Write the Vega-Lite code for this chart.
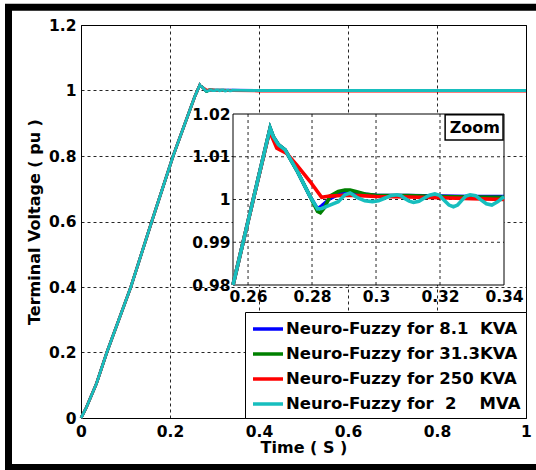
{
  "$schema": "https://vega.github.io/schema/vega-lite/v6.json",
  "width": 445,
  "height": 393,
  "autosize": "none",
  "padding": {"left": 81, "top": 25, "right": 10, "bottom": 52},
  "background": "white",
  "config": {
    "font": "DejaVu Sans",
    "view": {"stroke": "black", "strokeWidth": 1},
    "axis": {
      "labelFont": "DejaVu Sans", "labelFontWeight": "bold", "labelFontSize": 15.5, "labelColor": "black",
      "titleFont": "DejaVu Sans", "titleFontWeight": "bold", "titleFontSize": 16, "titleColor": "black",
      "ticks": false, "domain": false, "labelFlush": false, "labelOverlap": false,
      "gridColor": "black", "gridDash": [3, 3], "gridOpacity": 0.85, "gridWidth": 1
    },
    "legend": {
      "orient": "bottom-right", "offset": 0, "padding": 5,
      "strokeColor": "black", "fillColor": "white",
      "symbolType": "M-0.9,0H2.1", "symbolSize": 400, "symbolStrokeWidth": 3.5,
      "labelFont": "DejaVu Sans", "labelFontWeight": "bold", "labelFontSize": 16.5, "labelColor": "black",
      "labelLimit": 400, "labelOffset": 12, "rowPadding": 4
    }
  },
  "datasets": {
    "voltage": [
      {"s": "8.1KVA", "t": 0, "v": 0}, {"s": "8.1KVA", "t": 0.012, "v": 0.032}, {"s": "8.1KVA", "t": 0.035, "v": 0.106},
      {"s": "8.1KVA", "t": 0.058, "v": 0.2}, {"s": "8.1KVA", "t": 0.085, "v": 0.3}, {"s": "8.1KVA", "t": 0.112, "v": 0.4},
      {"s": "8.1KVA", "t": 0.159, "v": 0.6}, {"s": "8.1KVA", "t": 0.207, "v": 0.8}, {"s": "8.1KVA", "t": 0.2553, "v": 0.98},
      {"s": "8.1KVA", "t": 0.26, "v": 0.9949}, {"s": "8.1KVA", "t": 0.2669, "v": 1.0167}, {"s": "8.1KVA", "t": 0.2679, "v": 1.0147},
      {"s": "8.1KVA", "t": 0.2695, "v": 1.0128}, {"s": "8.1KVA", "t": 0.2716, "v": 1.0116}, {"s": "8.1KVA", "t": 0.2752, "v": 1.0069},
      {"s": "8.1KVA", "t": 0.2794, "v": 1.0007}, {"s": "8.1KVA", "t": 0.2817, "v": 0.9978}, {"s": "8.1KVA", "t": 0.283, "v": 0.9985},
      {"s": "8.1KVA", "t": 0.2856, "v": 1.0002}, {"s": "8.1KVA", "t": 0.2882, "v": 1.0012}, {"s": "8.1KVA", "t": 0.2903, "v": 1.0016},
      {"s": "8.1KVA", "t": 0.294, "v": 1.0014}, {"s": "8.1KVA", "t": 0.3, "v": 1.001}, {"s": "8.1KVA", "t": 0.31, "v": 1.0009},
      {"s": "8.1KVA", "t": 0.32, "v": 1.0008}, {"s": "8.1KVA", "t": 0.33, "v": 1.0007}, {"s": "8.1KVA", "t": 0.34, "v": 1.0007},
      {"s": "8.1KVA", "t": 0.4, "v": 1}, {"s": "8.1KVA", "t": 1, "v": 1},

      {"s": "31.3KVA", "t": 0, "v": 0}, {"s": "31.3KVA", "t": 0.012, "v": 0.032}, {"s": "31.3KVA", "t": 0.035, "v": 0.106},
      {"s": "31.3KVA", "t": 0.058, "v": 0.2}, {"s": "31.3KVA", "t": 0.085, "v": 0.3}, {"s": "31.3KVA", "t": 0.112, "v": 0.4},
      {"s": "31.3KVA", "t": 0.159, "v": 0.6}, {"s": "31.3KVA", "t": 0.207, "v": 0.8}, {"s": "31.3KVA", "t": 0.2553, "v": 0.98},
      {"s": "31.3KVA", "t": 0.26, "v": 0.9949}, {"s": "31.3KVA", "t": 0.2669, "v": 1.0167}, {"s": "31.3KVA", "t": 0.2679, "v": 1.0147},
      {"s": "31.3KVA", "t": 0.2695, "v": 1.0128}, {"s": "31.3KVA", "t": 0.2716, "v": 1.0116}, {"s": "31.3KVA", "t": 0.2752, "v": 1.0069},
      {"s": "31.3KVA", "t": 0.2794, "v": 1.0007}, {"s": "31.3KVA", "t": 0.2817, "v": 0.9972}, {"s": "31.3KVA", "t": 0.2826, "v": 0.9969},
      {"s": "31.3KVA", "t": 0.284, "v": 0.9982}, {"s": "31.3KVA", "t": 0.2856, "v": 1.0008}, {"s": "31.3KVA", "t": 0.2882, "v": 1.0019},
      {"s": "31.3KVA", "t": 0.2903, "v": 1.0022}, {"s": "31.3KVA", "t": 0.2919, "v": 1.0022}, {"s": "31.3KVA", "t": 0.294, "v": 1.0018},
      {"s": "31.3KVA", "t": 0.2971, "v": 1.0012}, {"s": "31.3KVA", "t": 0.3, "v": 1.001}, {"s": "31.3KVA", "t": 0.31, "v": 1.0009},
      {"s": "31.3KVA", "t": 0.32, "v": 1.0007}, {"s": "31.3KVA", "t": 0.33, "v": 1.0006}, {"s": "31.3KVA", "t": 0.34, "v": 1.0005},
      {"s": "31.3KVA", "t": 0.4, "v": 1}, {"s": "31.3KVA", "t": 1, "v": 1},

      {"s": "250KVA", "t": 0, "v": 0}, {"s": "250KVA", "t": 0.012, "v": 0.032}, {"s": "250KVA", "t": 0.035, "v": 0.106},
      {"s": "250KVA", "t": 0.058, "v": 0.2}, {"s": "250KVA", "t": 0.085, "v": 0.3}, {"s": "250KVA", "t": 0.112, "v": 0.4},
      {"s": "250KVA", "t": 0.159, "v": 0.6}, {"s": "250KVA", "t": 0.207, "v": 0.8}, {"s": "250KVA", "t": 0.2553, "v": 0.98},
      {"s": "250KVA", "t": 0.26, "v": 0.9949}, {"s": "250KVA", "t": 0.2667, "v": 1.0159}, {"s": "250KVA", "t": 0.2679, "v": 1.0139},
      {"s": "250KVA", "t": 0.269, "v": 1.012}, {"s": "250KVA", "t": 0.2721, "v": 1.0108}, {"s": "250KVA", "t": 0.2752, "v": 1.0081},
      {"s": "250KVA", "t": 0.2794, "v": 1.0042}, {"s": "250KVA", "t": 0.283, "v": 1.0005}, {"s": "250KVA", "t": 0.2856, "v": 1.0008},
      {"s": "250KVA", "t": 0.29, "v": 1.001}, {"s": "250KVA", "t": 0.295, "v": 1.0009}, {"s": "250KVA", "t": 0.3, "v": 1.0007},
      {"s": "250KVA", "t": 0.31, "v": 1.0006}, {"s": "250KVA", "t": 0.32, "v": 1.0004}, {"s": "250KVA", "t": 0.33, "v": 1.0002},
      {"s": "250KVA", "t": 0.34, "v": 1.0}, {"s": "250KVA", "t": 0.4, "v": 0.9985}, {"s": "250KVA", "t": 0.6, "v": 0.998},
      {"s": "250KVA", "t": 1, "v": 0.998},

      {"s": "2MVA", "t": 0, "v": 0}, {"s": "2MVA", "t": 0.012, "v": 0.032}, {"s": "2MVA", "t": 0.035, "v": 0.106},
      {"s": "2MVA", "t": 0.058, "v": 0.2}, {"s": "2MVA", "t": 0.085, "v": 0.3}, {"s": "2MVA", "t": 0.112, "v": 0.4},
      {"s": "2MVA", "t": 0.159, "v": 0.6}, {"s": "2MVA", "t": 0.207, "v": 0.8}, {"s": "2MVA", "t": 0.2553, "v": 0.98},
      {"s": "2MVA", "t": 0.26, "v": 0.9949}, {"s": "2MVA", "t": 0.2669, "v": 1.0167}, {"s": "2MVA", "t": 0.2679, "v": 1.0147},
      {"s": "2MVA", "t": 0.2695, "v": 1.0128}, {"s": "2MVA", "t": 0.2716, "v": 1.0116}, {"s": "2MVA", "t": 0.2752, "v": 1.0069},
      {"s": "2MVA", "t": 0.2794, "v": 1.0007}, {"s": "2MVA", "t": 0.2817, "v": 0.9978}, {"s": "2MVA", "t": 0.283, "v": 0.9979},
      {"s": "2MVA", "t": 0.2856, "v": 0.9987}, {"s": "2MVA", "t": 0.2882, "v": 0.9995}, {"s": "2MVA", "t": 0.2903, "v": 1.0011},
      {"s": "2MVA", "t": 0.2919, "v": 1.0015}, {"s": "2MVA", "t": 0.294, "v": 1.0005}, {"s": "2MVA", "t": 0.2965, "v": 0.9997},
      {"s": "2MVA", "t": 0.2989, "v": 0.9995}, {"s": "2MVA", "t": 0.3008, "v": 0.9997}, {"s": "2MVA", "t": 0.3027, "v": 1.0003},
      {"s": "2MVA", "t": 0.3046, "v": 1.0009}, {"s": "2MVA", "t": 0.3065, "v": 1.0011}, {"s": "2MVA", "t": 0.3078, "v": 1.0009},
      {"s": "2MVA", "t": 0.3091, "v": 1.0002}, {"s": "2MVA", "t": 0.3104, "v": 0.9996}, {"s": "2MVA", "t": 0.3117, "v": 0.9993},
      {"s": "2MVA", "t": 0.3134, "v": 0.9996}, {"s": "2MVA", "t": 0.315, "v": 1.0003}, {"s": "2MVA", "t": 0.3167, "v": 1.001},
      {"s": "2MVA", "t": 0.3184, "v": 1.0013}, {"s": "2MVA", "t": 0.3198, "v": 1.001}, {"s": "2MVA", "t": 0.3213, "v": 0.9998},
      {"s": "2MVA", "t": 0.3228, "v": 0.9987}, {"s": "2MVA", "t": 0.3242, "v": 0.9983}, {"s": "2MVA", "t": 0.3255, "v": 0.9987},
      {"s": "2MVA", "t": 0.3268, "v": 0.9998}, {"s": "2MVA", "t": 0.3281, "v": 1.0008}, {"s": "2MVA", "t": 0.3294, "v": 1.0011},
      {"s": "2MVA", "t": 0.3311, "v": 1.0009}, {"s": "2MVA", "t": 0.3328, "v": 0.9999}, {"s": "2MVA", "t": 0.3345, "v": 0.999},
      {"s": "2MVA", "t": 0.3362, "v": 0.9987}, {"s": "2MVA", "t": 0.3381, "v": 0.9995}, {"s": "2MVA", "t": 0.34, "v": 1.0007},
      {"s": "2MVA", "t": 0.36, "v": 1.0003}, {"s": "2MVA", "t": 0.4, "v": 1}, {"s": "2MVA", "t": 0.6, "v": 1},
      {"s": "2MVA", "t": 0.8, "v": 1}, {"s": "2MVA", "t": 1, "v": 1}
    ],
    "zoomTimeGrid": [{"t": 0.26}, {"t": 0.28}, {"t": 0.3}, {"t": 0.32}],
    "zoomVoltageGrid": [{"v": 0.99}, {"v": 1.0}, {"v": 1.01}]
  },
  "layer": [
    {
      "layer": [
        {
          "data": {"values": [{}]},
          "mark": {"type": "rect", "filled": false, "stroke": "black", "strokeWidth": 7, "clip": false,
                   "xOffset": -72.5, "x2Offset": 25, "yOffset": 49.5, "y2Offset": -17.7},
          "encoding": {
            "x": {"datum": 0, "type": "quantitative"},
            "x2": {"datum": 1},
            "y": {"datum": 0, "type": "quantitative"},
            "y2": {"datum": 1.2}
          }
        },
        {
          "data": {"name": "voltage"},
          "mark": {"type": "line", "strokeWidth": 2.8},
          "encoding": {
            "x": {
              "field": "t", "type": "quantitative",
              "scale": {"domain": [0, 1], "nice": false, "zero": false},
              "axis": {"values": [0, 0.2, 0.4, 0.6, 0.8, 1], "format": "~g", "title": "Time ( S )",
                       "grid": true, "labelPadding": 6, "titlePadding": 0}
            },
            "y": {
              "field": "v", "type": "quantitative",
              "scale": {"domain": [0, 1.2], "nice": false, "zero": false},
              "axis": {"values": [0, 0.2, 0.4, 0.6, 0.8, 1, 1.2], "format": "~g", "title": "Terminal Voltage ( pu )",
                       "grid": true, "labelPadding": 5, "titlePadding": 6}
            },
            "color": {
              "field": "s", "type": "nominal", "title": null,
              "scale": {"domain": ["8.1KVA", "31.3KVA", "250KVA", "2MVA"],
                        "range": ["#0000ff", "#008000", "#ff0000", "#17bebe"]},
              "legend": {"labelExpr": "datum.value == '8.1KVA' ? 'Neuro-Fuzzy for 8.1\u00a0\u00a0KVA' : datum.value == '31.3KVA' ? 'Neuro-Fuzzy for 31.3KVA' : datum.value == '250KVA' ? 'Neuro-Fuzzy for 250 KVA' : 'Neuro-Fuzzy for \u00a02\u00a0\u00a0\u00a0\u00a0MVA'"}
            }
          }
        }
      ]
    },
    {
      "layer": [
        {
          "data": {"values": [{}]},
          "mark": {"type": "rect", "fill": "white", "stroke": "black", "strokeWidth": 1},
          "encoding": {
            "x": {"datum": 0.2553, "type": "quantitative",
                  "scale": {"domain": [0.2553, 0.34], "range": [152, 423], "nice": false, "zero": false},
                  "axis": {"orient": "bottom", "offset": -133, "values": [0.26, 0.28, 0.3, 0.32, 0.34], "format": "~g",
                           "title": null, "grid": false, "labelPadding": 4, "zindex": 1}},
            "x2": {"datum": 0.34},
            "y": {"datum": 0.98, "type": "quantitative",
                  "scale": {"domain": [0.98, 1.02], "range": [260, 89], "nice": false, "zero": false},
                  "axis": {"orient": "left", "offset": -152, "values": [0.98, 0.99, 1, 1.01, 1.02], "format": "~g",
                           "title": null, "grid": false, "labelPadding": 3, "zindex": 1}},
            "y2": {"datum": 1.02}
          }
        },
        {
          "data": {"name": "zoomTimeGrid"},
          "mark": {"type": "rule", "color": "black", "strokeDash": [3, 3], "strokeWidth": 1, "opacity": 0.85},
          "encoding": {
            "x": {"field": "t", "type": "quantitative",
                  "scale": {"domain": [0.2553, 0.34], "range": [152, 423], "nice": false, "zero": false},
                  "axis": {"orient": "bottom", "offset": -133, "values": [0.26, 0.28, 0.3, 0.32, 0.34], "format": "~g",
                           "title": null, "grid": false, "labelPadding": 4, "zindex": 1}},
            "y": {"datum": 0.98, "type": "quantitative",
                  "scale": {"domain": [0.98, 1.02], "range": [260, 89], "nice": false, "zero": false},
                  "axis": {"orient": "left", "offset": -152, "values": [0.98, 0.99, 1, 1.01, 1.02], "format": "~g",
                           "title": null, "grid": false, "labelPadding": 3, "zindex": 1}},
            "y2": {"datum": 1.02}
          }
        },
        {
          "data": {"name": "zoomVoltageGrid"},
          "mark": {"type": "rule", "color": "black", "strokeDash": [3, 3], "strokeWidth": 1, "opacity": 0.85},
          "encoding": {
            "x": {"datum": 0.2553, "type": "quantitative",
                  "scale": {"domain": [0.2553, 0.34], "range": [152, 423], "nice": false, "zero": false},
                  "axis": {"orient": "bottom", "offset": -133, "values": [0.26, 0.28, 0.3, 0.32, 0.34], "format": "~g",
                           "title": null, "grid": false, "labelPadding": 4, "zindex": 1}},
            "x2": {"datum": 0.34},
            "y": {"field": "v", "type": "quantitative",
                  "scale": {"domain": [0.98, 1.02], "range": [260, 89], "nice": false, "zero": false},
                  "axis": {"orient": "left", "offset": -152, "values": [0.98, 0.99, 1, 1.01, 1.02], "format": "~g",
                           "title": null, "grid": false, "labelPadding": 3, "zindex": 1}}
          }
        },
        {
          "data": {"name": "voltage"},
          "transform": [{"filter": "datum.t >= 0.2553 && datum.t <= 0.34"}],
          "mark": {"type": "line", "strokeWidth": 3.6},
          "encoding": {
            "x": {"field": "t", "type": "quantitative",
                  "scale": {"domain": [0.2553, 0.34], "range": [152, 423], "nice": false, "zero": false},
                  "axis": {"orient": "bottom", "offset": -133, "values": [0.26, 0.28, 0.3, 0.32, 0.34], "format": "~g",
                           "title": null, "grid": false, "labelPadding": 4, "zindex": 1}},
            "y": {"field": "v", "type": "quantitative",
                  "scale": {"domain": [0.98, 1.02], "range": [260, 89], "nice": false, "zero": false},
                  "axis": {"orient": "left", "offset": -152, "values": [0.98, 0.99, 1, 1.01, 1.02], "format": "~g",
                           "title": null, "grid": false, "labelPadding": 3, "zindex": 1}},
            "color": {
              "field": "s", "type": "nominal", "title": null,
              "scale": {"domain": ["8.1KVA", "31.3KVA", "250KVA", "2MVA"],
                        "range": ["#0000ff", "#008000", "#ff0000", "#17bebe"]},
              "legend": {"labelExpr": "datum.value == '8.1KVA' ? 'Neuro-Fuzzy for 8.1\u00a0\u00a0KVA' : datum.value == '31.3KVA' ? 'Neuro-Fuzzy for 31.3KVA' : datum.value == '250KVA' ? 'Neuro-Fuzzy for 250 KVA' : 'Neuro-Fuzzy for \u00a02\u00a0\u00a0\u00a0\u00a0MVA'"}
            }
          }
        },
        {
          "data": {"values": [{}]},
          "mark": {"type": "rect", "fill": "white", "stroke": "black", "strokeWidth": 1.5},
          "encoding": {
            "x": {"datum": 0.3216, "type": "quantitative",
                  "scale": {"domain": [0.2553, 0.34], "range": [152, 423], "nice": false, "zero": false},
                  "axis": {"orient": "bottom", "offset": -133, "values": [0.26, 0.28, 0.3, 0.32, 0.34], "format": "~g",
                           "title": null, "grid": false, "labelPadding": 4, "zindex": 1}},
            "x2": {"datum": 0.3397},
            "y": {"datum": 1.0198, "type": "quantitative",
                  "scale": {"domain": [0.98, 1.02], "range": [260, 89], "nice": false, "zero": false},
                  "axis": {"orient": "left", "offset": -152, "values": [0.98, 0.99, 1, 1.01, 1.02], "format": "~g",
                           "title": null, "grid": false, "labelPadding": 3, "zindex": 1}},
            "y2": {"datum": 1.0139}
          }
        },
        {
          "data": {"values": [{"label": "Zoom"}]},
          "mark": {"type": "text", "font": "DejaVu Sans", "fontWeight": "bold", "fontSize": 16, "color": "black",
                   "align": "right", "baseline": "middle", "dx": -4, "dy": 13.5},
          "encoding": {
            "x": {"datum": 0.34, "type": "quantitative",
                  "scale": {"domain": [0.2553, 0.34], "range": [152, 423], "nice": false, "zero": false},
                  "axis": {"orient": "bottom", "offset": -133, "values": [0.26, 0.28, 0.3, 0.32, 0.34], "format": "~g",
                           "title": null, "grid": false, "labelPadding": 4, "zindex": 1}},
            "y": {"datum": 1.02, "type": "quantitative",
                  "scale": {"domain": [0.98, 1.02], "range": [260, 89], "nice": false, "zero": false},
                  "axis": {"orient": "left", "offset": -152, "values": [0.98, 0.99, 1, 1.01, 1.02], "format": "~g",
                           "title": null, "grid": false, "labelPadding": 3, "zindex": 1}},
            "text": {"field": "label"}
          }
        }
      ]
    }
  ],
  "resolve": {"scale": {"x": "independent", "y": "independent"}}
}
